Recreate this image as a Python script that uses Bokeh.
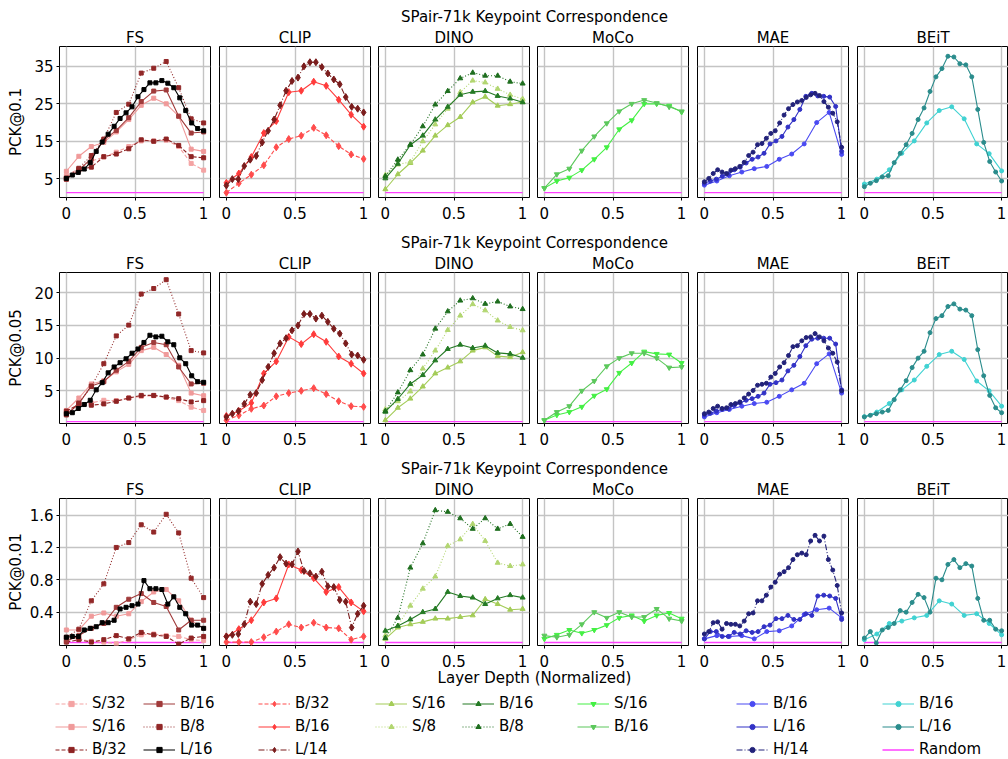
import numpy as np
from bokeh.plotting import figure
from bokeh.models import Range1d, FixedTicker, Label, Legend, LegendItem, NumeralTickFormatter, Grid
from bokeh.layouts import column, row
from bokeh.embed import file_html
from bokeh.resources import INLINE

# ---------------- data ----------------
FAMILIES = ["FS", "CLIP", "DINO", "MoCo", "MAE", "BEiT"]
METRICS = ["PCK@0.1", "PCK@0.05", "PCK@0.01"]
ROW_TITLE = "SPair-71k Keypoint Correspondence"
X_LABEL = "Layer Depth (Normalized)"
X_TICKS = [0, 0.5, 1]
Y_TICKS = [[5, 15, 25, 35], [5, 10, 15, 20], [0.4, 0.8, 1.2, 1.6]]
RANDOM = [1.3, 0.3, 0.025]
RANDOM_X = [0, 1]

# PCK@0.1
FS_S32_10 = [5.8, 7.7, 9.7, 10.8, 12.1, 13.6, 15.1, 15.1, 15.3, 13.6, 9.1, 7.3]
FS_S16_10 = [7.0, 11.0, 13.6, 14.7, 17.5, 20.8, 24.6, 26.5, 25.0, 21.7, 12.9, 12.3]
FS_B32_10 = [4.9, 7.5, 8.1, 10.9, 11.6, 13.0, 15.4, 15.0, 15.6, 13.9, 10.9, 10.6]
FS_B16_10 = [4.9, 7.3, 10.4, 15.3, 17.9, 21.3, 25.6, 28.4, 28.7, 21.7, 17.2, 17.5]
FS_B8_10 = [5.2, 7.8, 11.2, 15.6, 22.7, 24.9, 33.2, 34.5, 36.3, 29.3, 21.0, 19.9]
FS_L16_10 = [5.1, 6.0, 6.7, 7.6, 9.3, 12.3, 14.8, 16.9, 19.0, 21.1, 22.6, 24.2,
             26.9, 28.8, 30.6, 30.6, 31.2, 30.5, 29.3, 26.6, 23.2, 19.9, 18.4, 17.8]
CLIP_B32_10 = [1.3, 3.8, 6.1, 8.6, 13.4, 15.6, 16.5, 18.6, 16.6, 13.7, 11.5, 10.3]
CLIP_B16_10 = [3.9, 6.4, 10.8, 17.2, 20.4, 28.1, 28.5, 30.9, 29.8, 26.1, 22.1, 18.9]
CLIP_L14_10 = [3.2, 4.9, 4.9, 8.4, 10.1, 11.1, 14.7, 17.8, 20.8, 24.6, 28.5, 31.1,
               32.0, 35.0, 36.1, 36.1, 34.8, 33.1, 31.5, 30.2, 26.8, 24.2, 23.7, 22.7]
DINO_S16_10 = [2.2, 6.2, 9.2, 12.5, 16.5, 19.3, 21.5, 25.4, 26.9, 24.5, 24.9, 25.5]
DINO_S8_10 = [6.0, 8.8, 9.5, 15.0, 19.5, 23.7, 28.1, 31.2, 30.7, 29.0, 27.4, 26.3]
DINO_B16_10 = [5.1, 9.0, 14.0, 16.5, 20.8, 24.2, 27.4, 28.2, 28.4, 27.1, 26.4, 25.4]
DINO_B8_10 = [5.7, 10.1, 14.1, 19.0, 24.8, 28.4, 31.8, 33.3, 32.5, 32.5, 30.9, 30.4]
MOCO_S16_10 = [2.5, 4.4, 5.3, 7.3, 10.2, 13.4, 18.2, 20.6, 25.0, 25.0, 24.5, 22.8]
MOCO_B16_10 = [2.5, 6.2, 7.7, 12.5, 16.3, 19.8, 23.0, 25.0, 26.0, 25.2, 24.2, 23.0]
MAE_B16_10 = [3.3, 4.4, 5.8, 6.8, 7.7, 8.3, 10.2, 11.6, 14.3, 20.0, 22.7, 11.5]
MAE_L16_10 = [3.8, 4.4, 4.9, 5.7, 6.2, 7.4, 8.1, 9.2, 10.2, 10.8, 11.8, 14.3,
              15.1, 16.3, 18.8, 20.8, 23.5, 27.0, 27.8, 27.1, 27.0, 26.8, 24.3, 12.3]
MAE_H14_10 = [4.2, 5.1, 6.4, 7.4, 6.8, 6.4, 7.3, 7.7, 8.3, 9.4, 11.2, 12.1, 14.1, 14.4, 15.8, 17.1,
              17.8, 19.9, 22.0, 23.7, 24.8, 25.5, 25.9, 26.7, 27.4, 27.8, 27.2, 25.6, 24.1, 22.5, 20.2, 13.4]
BEIT_B16_10 = [3.6, 4.9, 7.4, 11.8, 15.1, 19.9, 23.2, 24.2, 21.0, 14.3, 11.7, 7.1]
BEIT_L16_10 = [2.9, 3.8, 4.5, 5.5, 5.8, 9.3, 11.8, 14.1, 17.1, 20.8, 23.9, 28.3,
               32.2, 34.4, 37.7, 37.5, 35.7, 35.4, 32.2, 23.5, 14.7, 9.6, 6.8, 4.4]

# PCK@0.05
FS_S32_05 = [1.75, 3.0, 3.15, 3.55, 3.5, 3.9, 4.15, 4.25, 4.0, 3.5, 2.5, 2.0]
FS_S16_05 = [2.0, 3.9, 6.05, 6.55, 7.9, 9.05, 11.15, 11.65, 10.55, 8.9, 4.65, 4.25]
FS_B32_05 = [1.9, 2.9, 2.8, 3.0, 3.4, 3.9, 4.3, 4.3, 4.05, 3.8, 3.3, 3.5]
FS_B16_05 = [1.3, 3.05, 5.75, 6.4, 8.15, 9.5, 11.65, 12.4, 12.05, 8.65, 6.05, 6.15]
FS_B8_05 = [1.4, 3.15, 5.65, 9.15, 13.4, 15.05, 19.8, 20.65, 22.0, 16.75, 11.15, 10.8]
FS_L16_05 = [1.5, 1.65, 2.3, 2.9, 3.55, 5.15, 6.25, 7.75, 8.65, 9.3, 9.9, 10.75,
             11.4, 12.4, 13.5, 13.25, 13.35, 12.5, 12.05, 10.05, 9.15, 7.3, 6.4, 6.3]
CLIP_B32_05 = [0.5, 1.25, 2.25, 2.75, 4.15, 4.65, 5.0, 5.4, 4.5, 3.4, 2.65, 2.55]
CLIP_B16_05 = [1.15, 1.9, 3.15, 7.65, 9.5, 13.25, 12.15, 13.65, 12.5, 10.25, 9.15, 7.65]
CLIP_L14_05 = [1.0, 1.5, 1.9, 3.0, 4.4, 4.65, 6.65, 8.65, 10.75, 12.25, 13.05, 14.25,
               15.0, 16.75, 16.75, 16.05, 16.5, 15.55, 14.5, 13.75, 12.25, 10.55, 10.4, 9.75]
DINO_S16_05 = [0.5, 2.4, 3.8, 5.65, 7.65, 8.55, 9.5, 11.15, 11.65, 10.3, 10.15, 10.9]
DINO_S8_05 = [2.15, 3.4, 4.9, 8.4, 11.15, 14.3, 16.5, 18.25, 17.3, 15.75, 14.75, 14.25]
DINO_B16_05 = [1.8, 3.75, 6.05, 7.4, 9.65, 11.4, 12.05, 11.55, 11.9, 10.8, 10.65, 10.05]
DINO_B8_05 = [1.9, 4.75, 8.15, 10.55, 14.5, 17.15, 18.8, 19.15, 18.3, 18.65, 17.9, 17.5]
MOCO_S16_05 = [0.5, 1.3, 1.75, 2.55, 4.25, 5.25, 7.75, 9.25, 11.0, 10.65, 10.55, 9.25]
MOCO_B16_05 = [0.5, 1.75, 2.65, 5.0, 6.5, 8.75, 10.0, 10.75, 10.75, 10.0, 8.55, 8.65]
MAE_B16_05 = [1.0, 1.65, 2.15, 2.65, 3.05, 3.25, 4.15, 5.15, 6.15, 9.15, 10.65, 4.65]
MAE_L16_05 = [1.3, 1.55, 1.9, 2.15, 2.25, 2.75, 3.15, 3.55, 3.8, 4.15, 4.65, 6.0,
              6.25, 6.65, 8.05, 8.9, 10.25, 11.9, 12.9, 13.05, 13.05, 13.05, 12.15, 5.15]
MAE_H14_05 = [1.5, 1.75, 2.3, 2.65, 2.3, 2.4, 2.9, 3.05, 3.3, 3.9, 4.5, 5.05, 5.85, 6.0, 6.15, 7.1,
              7.65, 8.65, 9.3, 10.4, 11.75, 11.9, 12.65, 13.15, 13.25, 13.75, 13.25, 12.65, 11.55, 10.75, 9.4, 5.0]
BEIT_B16_05 = [1.05, 1.75, 3.05, 5.15, 6.65, 8.75, 10.55, 11.05, 9.8, 6.5, 5.0, 2.65]
BEIT_L16_05 = [1.0, 1.25, 1.5, 1.75, 2.0, 3.65, 5.15, 6.55, 8.55, 10.0, 11.05, 13.9,
               16.05, 16.5, 17.9, 18.3, 17.5, 17.35, 16.5, 11.3, 7.3, 4.3, 2.4, 1.65]

# PCK@0.01
FS_S32_01 = [0.08, 0.07, 0.04, 0.03, 0.01, 0.06, 0.12, 0.13, 0.11, 0.10, 0.06, 0.05]
FS_S16_01 = [0.18, 0.18, 0.35, 0.39, 0.35, 0.38, 0.53, 0.65, 0.68, 0.54, 0.30, 0.20]
FS_B32_01 = [0.03, 0.06, 0.03, 0.06, 0.11, 0.07, 0.15, 0.12, 0.10, 0.005, 0.08, 0.10]
FS_B16_01 = [0.04, 0.11, 0.20, 0.26, 0.46, 0.56, 0.63, 0.52, 0.47, 0.18, 0.30, 0.30]
FS_B8_01 = [0.09, 0.19, 0.54, 0.75, 1.20, 1.26, 1.48, 1.39, 1.61, 1.38, 0.82, 0.58]
FS_L16_01 = [0.09, 0.10, 0.10, 0.18, 0.20, 0.22, 0.27, 0.27, 0.30, 0.44, 0.46, 0.48,
             0.50, 0.79, 0.69, 0.69, 0.68, 0.50, 0.59, 0.46, 0.38, 0.24, 0.24, 0.20]
CLIP_B32_01 = [0.03, 0.03, 0.03, 0.09, 0.16, 0.25, 0.21, 0.27, 0.21, 0.20, 0.06, 0.10]
CLIP_B16_01 = [0.10, 0.19, 0.30, 0.52, 0.57, 0.99, 0.92, 0.82, 0.65, 0.71, 0.52, 0.41]
CLIP_L14_01 = [0.10, 0.12, 0.13, 0.25, 0.53, 0.50, 0.75, 0.86, 0.95, 1.08, 1.00, 0.99,
               1.15, 0.91, 0.88, 0.84, 0.90, 0.72, 0.71, 0.55, 0.53, 0.21, 0.38, 0.48]
DINO_S16_01 = [0.07, 0.21, 0.25, 0.28, 0.32, 0.32, 0.34, 0.36, 0.56, 0.50, 0.43, 0.44]
DINO_S8_01 = [0.11, 0.23, 0.48, 0.69, 0.84, 1.22, 1.30, 1.49, 1.28, 1.01, 0.97, 0.99]
DINO_B16_01 = [0.17, 0.23, 0.31, 0.40, 0.44, 0.65, 0.60, 0.58, 0.50, 0.57, 0.61, 0.58]
DINO_B8_01 = [0.08, 0.33, 0.95, 1.25, 1.66, 1.64, 1.56, 1.43, 1.56, 1.43, 1.49, 1.33]
MOCO_S16_01 = [0.07, 0.12, 0.18, 0.14, 0.18, 0.24, 0.33, 0.36, 0.29, 0.36, 0.39, 0.32]
MOCO_B16_01 = [0.11, 0.09, 0.12, 0.25, 0.40, 0.33, 0.40, 0.34, 0.34, 0.44, 0.32, 0.29]
MAE_B16_01 = [0.07, 0.11, 0.10, 0.11, 0.07, 0.16, 0.17, 0.23, 0.37, 0.43, 0.45, 0.33]
MAE_L16_01 = [0.07, 0.16, 0.16, 0.10, 0.10, 0.15, 0.13, 0.17, 0.15, 0.16, 0.22, 0.24,
              0.32, 0.32, 0.36, 0.31, 0.31, 0.38, 0.36, 0.60, 0.61, 0.60, 0.57, 0.31]
MAE_H14_01 = [0.13, 0.16, 0.27, 0.28, 0.19, 0.26, 0.25, 0.25, 0.23, 0.29, 0.38, 0.39, 0.54, 0.54, 0.61, 0.71,
              0.77, 0.87, 0.90, 0.95, 1.05, 1.11, 1.13, 1.11, 1.28, 1.35, 1.28, 1.34, 1.05, 0.92, 0.73, 0.39]
BEIT_B16_01 = [0.06, 0.13, 0.26, 0.29, 0.33, 0.36, 0.54, 0.50, 0.36, 0.38, 0.26, 0.12]
BEIT_L16_01 = [0.08, 0.16, 0.02, 0.18, 0.21, 0.26, 0.42, 0.40, 0.52, 0.62, 0.58, 0.40,
               0.82, 0.80, 0.99, 1.05, 0.95, 1.00, 0.97, 0.57, 0.30, 0.30, 0.19, 0.17]

# ---------------- styles ----------------
FONT = "DejaVu Sans"
FS_PX = "15px"
DASH = {"solid": "solid", "dashed": "4 2", "dotted": "1 2", "dashdot": "6 2 1 2"}
RANDOM_COLOR = "#ff40ff"

# family, label, colour, dash, marker, marker size, values per metric
SERIES = [
    ("FS", "S/32", "#f4a3a3", "dashed", "square", 4, [FS_S32_10, FS_S32_05, FS_S32_01]),
    ("FS", "S/16", "#f09a9a", "solid", "square", 4, [FS_S16_10, FS_S16_05, FS_S16_01]),
    ("FS", "B/32", "#8e2323", "dashed", "square", 4, [FS_B32_10, FS_B32_05, FS_B32_01]),
    ("FS", "B/16", "#a03a3a", "solid", "square", 4, [FS_B16_10, FS_B16_05, FS_B16_01]),
    ("FS", "B/8", "#922828", "dotted", "square", 4, [FS_B8_10, FS_B8_05, FS_B8_01]),
    ("FS", "L/16", "#000000", "solid", "square", 4, [FS_L16_10, FS_L16_05, FS_L16_01]),
    ("CLIP", "B/32", "#ff4c4c", "dashed", "diamond", 7, [CLIP_B32_10, CLIP_B32_05, CLIP_B32_01]),
    ("CLIP", "B/16", "#ff3b3b", "solid", "diamond", 7, [CLIP_B16_10, CLIP_B16_05, CLIP_B16_01]),
    ("CLIP", "L/14", "#7a1c1c", "dashdot", "diamond", 7, [CLIP_L14_10, CLIP_L14_05, CLIP_L14_01]),
    ("DINO", "S/16", "#a4cc58", "solid", "triangle", 5, [DINO_S16_10, DINO_S16_05, DINO_S16_01]),
    ("DINO", "S/8", "#b2d670", "dotted", "triangle", 5, [DINO_S8_10, DINO_S8_05, DINO_S8_01]),
    ("DINO", "B/16", "#247a24", "solid", "triangle", 5, [DINO_B16_10, DINO_B16_05, DINO_B16_01]),
    ("DINO", "B/8", "#1e6e1e", "dotted", "triangle", 5, [DINO_B8_10, DINO_B8_05, DINO_B8_01]),
    ("MoCo", "S/16", "#44f044", "solid", "inverted_triangle", 5, [MOCO_S16_10, MOCO_S16_05, MOCO_S16_01]),
    ("MoCo", "B/16", "#5cc85c", "solid", "inverted_triangle", 5, [MOCO_B16_10, MOCO_B16_05, MOCO_B16_01]),
    ("MAE", "B/16", "#4a4af2", "solid", "circle", 4, [MAE_B16_10, MAE_B16_05, MAE_B16_01]),
    ("MAE", "L/16", "#3232c6", "solid", "circle", 4, [MAE_L16_10, MAE_L16_05, MAE_L16_01]),
    ("MAE", "H/14", "#22227a", "dashdot", "circle", 4, [MAE_H14_10, MAE_H14_05, MAE_H14_01]),
    ("BEiT", "B/16", "#40d2d2", "solid", "circle", 4, [BEIT_B16_10, BEIT_B16_05, BEIT_B16_01]),
    ("BEiT", "L/16", "#2a8c8c", "solid", "circle", 4, [BEIT_L16_10, BEIT_L16_05, BEIT_L16_01]),
]

# ---------------- layout ----------------
PAGE_W = 1008
Y_RANGES = [(0.0, 40.3), (0.0, 23.1), (-0.012, 1.805)]
Y_LABEL_STANDOFF = [6, 6, 2]
FRAME_W, FRAME_H = 151, 153
LEFTS = [59, 5, 5, 4, 5, 5]
RIGHTS = [4, 3, 4, 4, 4, 0]
STRIP_H = 26
TOP_B = 18
BOTTOM_B = [29, 29, 20]
BOTTOM_H = 90
GRID_COLOR = "#c4c4c4"


def style_axis(ax):
    ax.formatter = NumeralTickFormatter(format="0.[0]")
    ax.axis_line_color = None
    ax.major_tick_line_color = "black"
    ax.major_tick_in = 0
    ax.major_tick_out = 3
    ax.minor_tick_line_color = None
    ax.major_label_text_font = FONT
    ax.major_label_text_font_size = FS_PX
    ax.major_label_text_color = "black"
    ax.major_label_standoff = 3


def panel(r, c, fam):
    left, right, bottom = LEFTS[c], RIGHTS[c], BOTTOM_B[r]
    p = figure(width=left + FRAME_W + right, height=TOP_B + FRAME_H + bottom,
               x_range=Range1d(-0.05, 1.05), y_range=Range1d(*Y_RANGES[r]),
               y_axis_location="left" if c == 0 else None,
               toolbar_location=None, output_backend="svg", title=fam,
               min_border_left=left, min_border_right=right,
               min_border_top=TOP_B, min_border_bottom=bottom)
    p.title.align = "center"
    p.title.text_font = FONT
    p.title.text_font_size = FS_PX
    p.title.text_font_style = "normal"
    p.title.text_color = "black"
    p.title.standoff = 0
    p.title.offset = 0
    p.outline_line_color = "black"
    p.outline_line_width = 1
    p.outline_line_alpha = 1
    p.background_fill_color = "white"
    p.border_fill_color = "white"
    p.xaxis.ticker = FixedTicker(ticks=X_TICKS)
    style_axis(p.xaxis[0])
    p.xaxis.major_label_standoff = 6
    if c == 0:
        p.yaxis.ticker = FixedTicker(ticks=Y_TICKS[r])
        style_axis(p.yaxis[0])
        p.yaxis.axis_label = METRICS[r]
        p.yaxis.axis_label_text_font = FONT
        p.yaxis.axis_label_text_font_size = FS_PX
        p.yaxis.axis_label_text_font_style = "normal"
        p.yaxis.axis_label_text_color = "black"
        p.yaxis.axis_label_standoff = Y_LABEL_STANDOFF[r]
    else:
        if len(p.ygrid) > 0:
            p.ygrid.ticker = FixedTicker(ticks=Y_TICKS[r])
        else:
            p.add_layout(Grid(dimension=1, ticker=FixedTicker(ticks=Y_TICKS[r])))
    p.grid.grid_line_color = GRID_COLOR
    p.grid.grid_line_width = 1.4

    p.line(RANDOM_X, [RANDOM[r]] * len(RANDOM_X), color=RANDOM_COLOR, line_width=1.3)
    for f, lab, col, dash, mk, sz, vals in SERIES:
        if f != fam:
            continue
        y = vals[r]
        x = np.linspace(0, 1, len(y))
        p.line(x, y, color=col, line_width=1.1, line_dash=DASH[dash])
        p.scatter(x, y, marker=mk, size=sz, color=col)
    return p


def blank(height):
    s = figure(width=PAGE_W, height=height, x_range=Range1d(0, 1), y_range=Range1d(0, 1),
               x_axis_location=None, y_axis_location=None, toolbar_location=None,
               output_backend="svg", min_border=0, outline_line_color=None)
    s.grid.grid_line_color = None
    s.background_fill_color = "white"
    s.border_fill_color = "white"
    return s


def strip(text):
    s = blank(STRIP_H)
    s.add_layout(Label(x=534 / PAGE_W, y=(STRIP_H - 16) / STRIP_H, text=text, text_align="center",
                       text_baseline="middle", text_font=FONT, text_font_size=FS_PX, text_color="black"))
    return s


# ---------------- bottom: x label + legends ----------------
LEGEND_COLUMNS = [
    ([("FS", "S/32"), ("FS", "S/16"), ("FS", "B/32")], 55),
    ([("FS", "B/16"), ("FS", "B/8"), ("FS", "L/16")], 143),
    ([("CLIP", "B/32"), ("CLIP", "B/16"), ("CLIP", "L/14")], 258),
    ([("DINO", "S/16"), ("DINO", "S/8")], 375),
    ([("DINO", "B/16"), ("DINO", "B/8")], 462),
    ([("MoCo", "S/16"), ("MoCo", "B/16")], 577),
    ([("MAE", "B/16"), ("MAE", "L/16"), ("MAE", "H/14")], 736),
    ([("BEiT", "B/16"), ("BEiT", "L/16"), ("Random", "Random")], 882),
]
ROW_H, ROW_GAP = 20, 3
GLYPH_H = 13
FIRST_ROW_CENTER = 34

bottom = blank(BOTTOM_H)
bottom.add_layout(Label(x=534 / PAGE_W, y=(BOTTOM_H - 8) / BOTTOM_H, text=X_LABEL, text_align="center",
                        text_baseline="middle", text_font=FONT, text_font_size=FS_PX, text_color="black"))

NAN = [float("nan")]
style_of = {(f, lab): (col, dash, mk, sz) for f, lab, col, dash, mk, sz, _ in SERIES}
for items, xoff in LEGEND_COLUMNS:
    litems = []
    for key in items:
        if key[0] == "Random":
            lr = bottom.line(NAN, NAN, color=RANDOM_COLOR, line_width=1.3)
            litems.append(LegendItem(label="Random", renderers=[lr]))
            continue
        col, dash, mk, sz = style_of[key]
        lr = bottom.line(NAN, NAN, color=col, line_width=1.1, line_dash=DASH[dash])
        sr = bottom.scatter(NAN, NAN, marker=mk, size=sz, color=col)
        litems.append(LegendItem(label=key[1], renderers=[lr, sr]))
    n = len(items)
    hgt = n * ROW_H + (n - 1) * ROW_GAP
    top_of_legend = FIRST_ROW_CENTER - ROW_H / 2
    yoff = BOTTOM_H - top_of_legend - hgt
    leg = Legend(items=litems, location=(xoff, yoff), orientation="vertical",
                 glyph_width=32, glyph_height=GLYPH_H, label_height=ROW_H, spacing=ROW_GAP,
                 label_standoff=5, padding=0, margin=0, border_line_color=None,
                 background_fill_alpha=0, label_text_font=FONT, label_text_font_size=FS_PX,
                 label_text_color="black")
    bottom.add_layout(leg)

rows = []
for r in range(3):
    rows.append(strip(ROW_TITLE))
    rows.append(row(*[panel(r, c, fam) for c, fam in enumerate(FAMILIES)]))
rows.append(bottom)
layout = column(*rows)

open("out.html", "w").write(file_html(layout, INLINE))
